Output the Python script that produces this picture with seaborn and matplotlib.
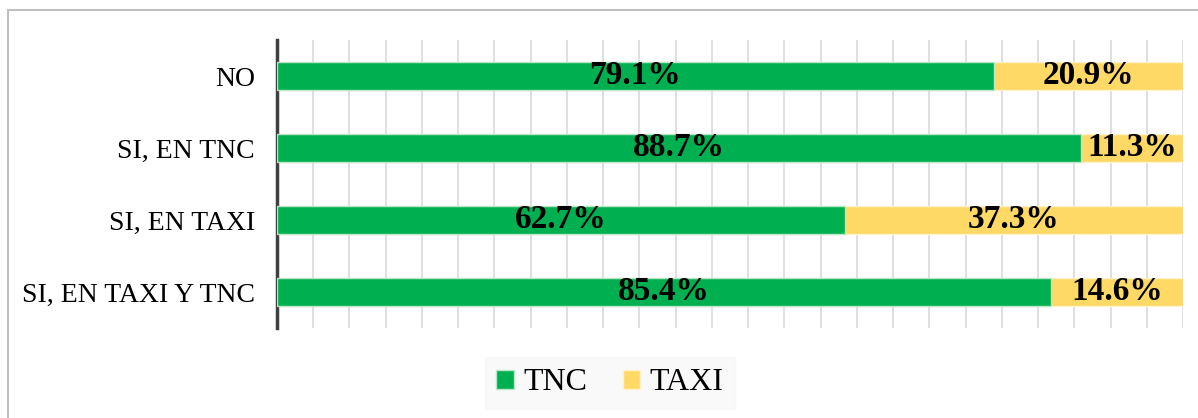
import matplotlib
matplotlib.use("Agg")
import matplotlib.pyplot as plt
import matplotlib.patches as mpatches
import numpy as np
import pandas as pd
import seaborn as sns

# Data
categories = ["NO", "SI, EN TNC", "SI, EN TAXI", "SI, EN TAXI Y TNC"]
tnc = [79.1, 88.7, 62.7, 85.4]
taxi = [20.9, 11.3, 37.3, 14.6]
series_names = ["TNC", "TAXI"]

green = "#00B050"
yellow = "#FFD966"

sns.set_style("white")
plt.rcParams["font.family"] = ["Liberation Serif", "DejaVu Serif"]
plt.rcParams["text.color"] = "black"

df = pd.DataFrame({"cat": categories, "TNC": tnc, "TAXI": taxi})
df["total"] = df["TNC"] + df["TAXI"]

fig = plt.figure(figsize=(11.98, 4.18), dpi=100)
ax = fig.add_axes([277 / 1198, 1 - 328 / 418, (1183 - 277) / 1198, (328 - 40) / 418])

# stacked: total first (yellow), then TNC on top (green)
sns.barplot(data=df, x="total", y="cat", orient="h", color=yellow, width=0.4,
            saturation=1, edgecolor="#fff2cc", linewidth=1, ax=ax, zorder=2)
sns.barplot(data=df, x="TNC", y="cat", orient="h", color=green, width=0.4,
            saturation=1, edgecolor="#b8e6c8", linewidth=1, ax=ax, zorder=3)

# labels
for i, row in df.iterrows():
    ax.text(row["TNC"] / 2, i, f"{row['TNC']:.1f}%", ha="center", va="center",
            fontsize=24, fontweight="bold", color="black", zorder=5)
    ax.text(row["TNC"] + row["TAXI"] / 2, i, f"{row['TAXI']:.1f}%", ha="center",
            va="center", fontsize=24, fontweight="bold", color="black", zorder=5)

ax.set_xlim(0, 100)
ax.set_ylim(3.5, -0.5)
ax.set_xticks(np.arange(0, 101, 4))
ax.set_xticklabels([])
ax.xaxis.grid(True, color="#d9d9d9", linewidth=1.2, zorder=0)
ax.set_axisbelow(True)
ax.tick_params(axis="both", length=0)
ax.tick_params(axis="y", labelsize=20, pad=16, labelcolor="black")
ax.set_xlabel("")
ax.set_ylabel("")
for s in ["top", "right", "bottom"]:
    ax.spines[s].set_visible(False)
ax.spines["left"].set_color("#404040")
ax.spines["left"].set_linewidth(2.5)

# legend
handles = [mpatches.Patch(facecolor=green, edgecolor="#b8e6c8"),
           mpatches.Patch(facecolor=yellow, edgecolor="#fff2cc")]
leg = fig.legend(handles, series_names, loc="center", bbox_to_anchor=(610 / 1198, 1 - 383 / 418),
                 ncol=2, frameon=True, fancybox=False, fontsize=23, handlelength=0.55,
                 handleheight=0.55, handletextpad=0.3, columnspacing=1.1,
                 borderpad=0.35, borderaxespad=0)
leg.get_frame().set_facecolor("#f8f8f8")
leg.get_frame().set_edgecolor("#f8f8f8")

# outer border
fig.patches.append(mpatches.Rectangle((8 / 1198, -0.1), 1.2, 1 - 10 / 418 + 0.1,
                                      transform=fig.transFigure, fill=False,
                                      edgecolor="#bfbfbf", linewidth=1.5))

fig.savefig("out.png", dpi=100, facecolor="white")
